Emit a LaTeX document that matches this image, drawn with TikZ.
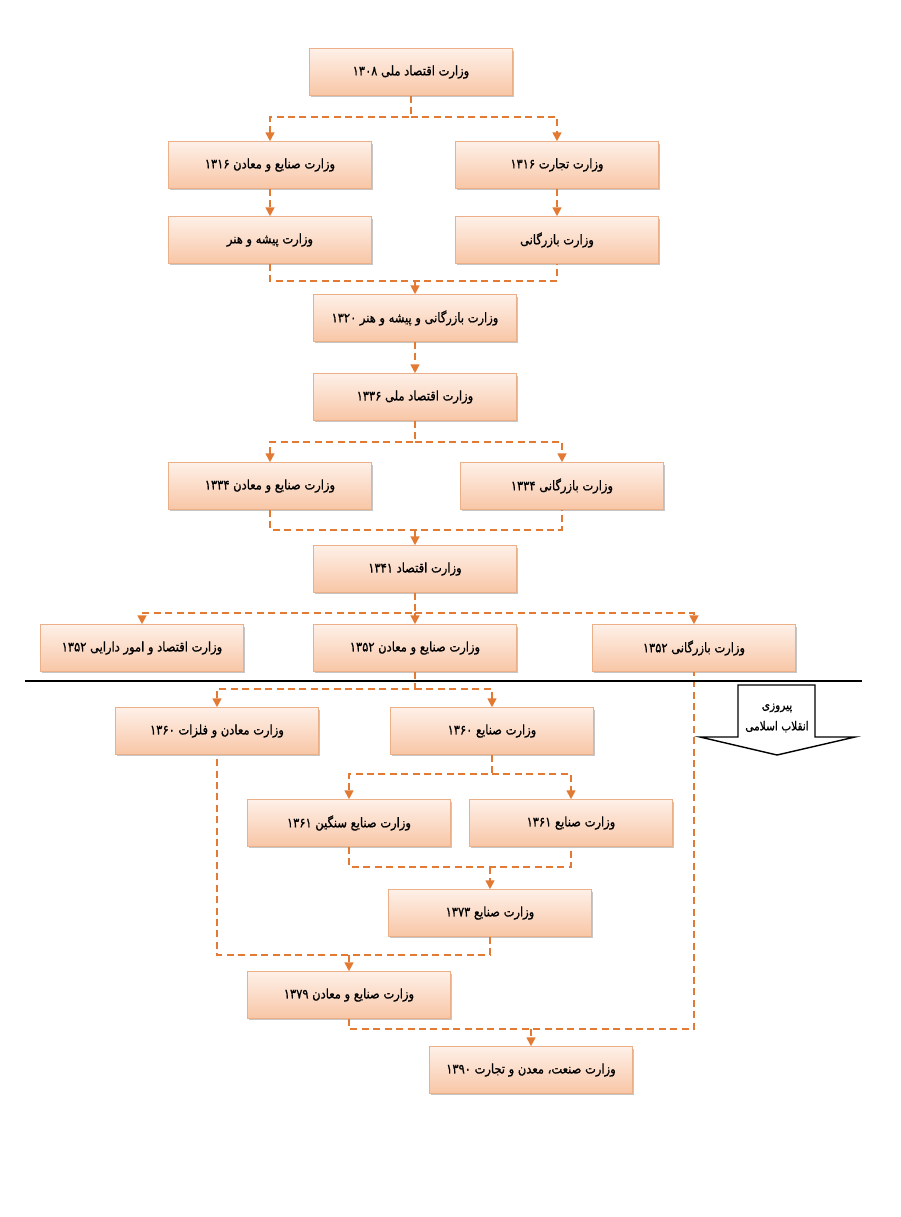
\documentclass[tikz,border=0pt]{standalone}
\usepackage{fontspec}
\newfontfamily\fa[Script=Arabic, FakeStretch=0.86, FakeBold=0.8]{DejaVu Sans}
\TeXXeTstate=1
\usetikzlibrary{arrows.meta,shadows}
\definecolor{dashorange}{RGB}{226,122,52}
\definecolor{boxedge}{RGB}{236,176,136}
\definecolor{boxtop}{RGB}{254,240,232}
\definecolor{boxbot}{RGB}{248,198,166}
\begin{document}
\begin{tikzpicture}[x=0.02cm,y=-0.02cm,
  box/.style={draw=boxedge, line width=0.6pt, top color=boxtop, bottom color=boxbot,
    minimum width=4.06cm, minimum height=0.93cm, inner sep=0pt,
    font=\fa\fontsize{7.6}{9}\selectfont,
    drop shadow={shadow xshift=0.6pt, shadow yshift=-1.2pt, opacity=0.45, fill=gray}},
  line/.style={draw=dashorange, line width=1pt, dash pattern=on 4pt off 2.5pt},
  flow/.style={line, -{Triangle[width=5pt,length=5pt]}}]
\useasboundingbox (0,0) rectangle (900,1217);

\node[box] (eco1308) at (411,72) {\beginR وزارت اقتصاد ملی ۱۳۰۸\endR};
\node[box] (san1316) at (270,165) {\beginR وزارت صنایع و معادن ۱۳۱۶\endR};
\node[box] (tej1316) at (557,165) {\beginR وزارت تجارت ۱۳۱۶\endR};
\node[box] (pishe) at (270,240) {\beginR وزارت پیشه و هنر\endR};
\node[box] (bazar) at (557,240) {\beginR وزارت بازرگانی\endR};
\node[box] (baz1320) at (415,318) {\beginR وزارت بازرگانی و پیشه و هنر ۱۳۲۰\endR};
\node[box] (eco1336) at (415,397) {\beginR وزارت اقتصاد ملی ۱۳۳۶\endR};
\node[box] (san1334) at (270,486) {\beginR وزارت صنایع و معادن ۱۳۳۴\endR};
\node[box] (baz1334) at (562,486) {\beginR وزارت بازرگانی ۱۳۳۴\endR};
\node[box] (eco1341) at (415,569) {\beginR وزارت اقتصاد ۱۳۴۱\endR};
\node[box] (eco1352) at (142,648) {\beginR وزارت اقتصاد و امور دارایی ۱۳۵۲\endR};
\node[box] (san1352) at (415,648) {\beginR وزارت صنایع و معادن ۱۳۵۲\endR};
\node[box] (baz1352) at (694,648) {\beginR وزارت بازرگانی ۱۳۵۲\endR};
\node[box] (mad1360) at (217,731) {\beginR وزارت معادن و فلزات ۱۳۶۰\endR};
\node[box] (san1360) at (492,731) {\beginR وزارت صنایع ۱۳۶۰\endR};
\node[box] (heavy1361) at (349,823) {\beginR وزارت صنایع سنگین ۱۳۶۱\endR};
\node[box] (san1361) at (571,823) {\beginR وزارت صنایع ۱۳۶۱\endR};
\node[box] (san1373) at (490,913) {\beginR وزارت صنایع ۱۳۷۳\endR};
\node[box] (san1379) at (349,995) {\beginR وزارت صنایع و معادن ۱۳۷۹\endR};
\node[box] (smt1390) at (531,1070) {\beginR وزارت صنعت، معدن و تجارت ۱۳۹۰\endR};

\draw[flow] (eco1308.south) -- ++(0,21) coordinate (s1) -| (san1316.north);
\draw[flow] (s1) -| (tej1316.north);
\draw[flow] (san1316) -- (pishe);
\draw[flow] (tej1316) -- (bazar);
\draw[line] (pishe.south) -- ++(0,17) coordinate (j1) -| (bazar.south);
\draw[flow] (j1 -| baz1320.north) -- (baz1320.north);
\draw[flow] (baz1320) -- (eco1336);
\draw[flow] (eco1336.south) -- ++(0,21) coordinate (s2) -| (san1334.north);
\draw[flow] (s2) -| (baz1334.north);
\draw[line] (san1334.south) -- ++(0,20) coordinate (j2) -| (baz1334.south);
\draw[flow] (j2 -| eco1341.north) -- (eco1341.north);
\draw[flow] (eco1341.south) -- ++(0,20) coordinate (s3) -| (eco1352.north);
\draw[flow] (s3) -| (baz1352.north);
\draw[flow] (s3) -- (san1352.north);
\draw[flow] (san1352.south) -- ++(0,17) coordinate (s4) -| (mad1360.north);
\draw[flow] (s4) -| (san1360.north);
\draw[flow] (san1360.south) -- ++(0,19) coordinate (s5) -| (heavy1361.north);
\draw[flow] (s5) -| (san1361.north);
\draw[line] (heavy1361.south) -- ++(0,20) coordinate (j3) -| (san1361.south);
\draw[flow] (j3 -| san1373.north) -- (san1373.north);
\draw[line] (san1373.south) -- ++(0,18) coordinate (j4) -| (mad1360.south);
\draw[flow] (j4 -| san1379.north) -- (san1379.north);
\draw[line] (san1379.south) -- ++(0,10) coordinate (j5) -| (baz1352.south);
\draw[flow] (j5 -| smt1390.north) -- (smt1390.north);

\draw[line width=1.2pt] (25,681) -- (862,681);
\draw[line width=0.8pt, fill=white] (738,685) -- (815,685) -- (815,737) -- (855,737)
  -- (777,755) -- (700,737) -- (738,737) -- cycle;
\node[font=\fa\fontsize{7}{12}\selectfont, align=center] (rev) at (777,718)
  {\beginR پیروزی\endR\\ \beginR انقلاب اسلامی\endR};
\end{tikzpicture}
\end{document}
